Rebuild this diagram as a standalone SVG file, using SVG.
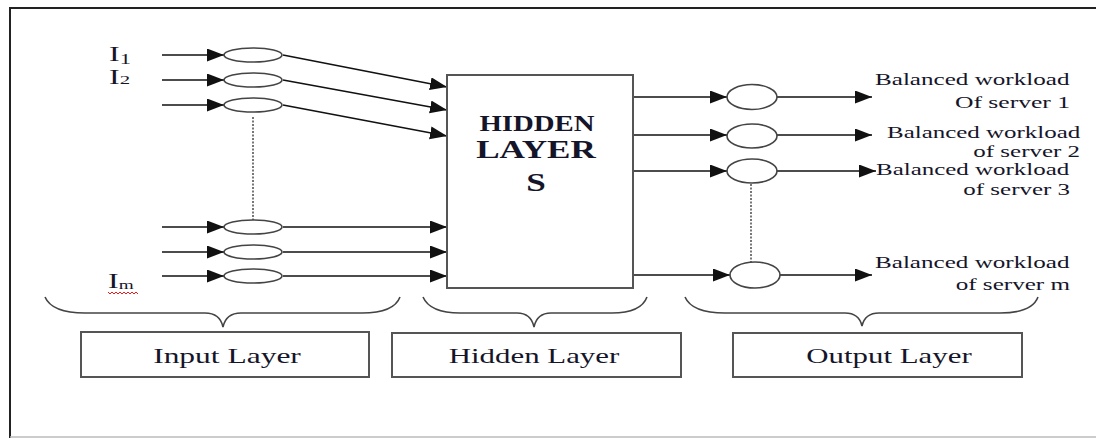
<svg xmlns="http://www.w3.org/2000/svg" width="1096" height="439" viewBox="0 0 1096 439">
<style>
.ln{stroke:#111;stroke-width:1.6;fill:none}
.ell{stroke:#444;stroke-width:1.6;fill:#fff}
.dot{stroke:#555;stroke-width:1.6;stroke-dasharray:2,1.5;fill:none}
.brace{stroke:#444;stroke-width:1.6;fill:none}
.box{stroke:#555;stroke-width:2;fill:#fff}
.t{font-family:"Liberation Serif","Times New Roman",serif;fill:#15152a}
.out{font-size:16px}
.lbl{font-size:20px}
.lay{font-size:21px}
.hid{font-weight:bold}
</style>
<defs>
<marker id="ah" markerUnits="userSpaceOnUse" markerWidth="18" markerHeight="14" refX="17" refY="6.5" orient="auto">
<path d="M0,0 L17,6.5 L0,13 z" fill="#111"/>
</marker>
</defs>

<g id="frame">
<line x1="10" y1="8" x2="1096" y2="8" stroke="#222" stroke-width="2"/>
<line x1="10" y1="7" x2="10" y2="438" stroke="#222" stroke-width="2"/>
<line x1="10" y1="437" x2="1096" y2="437" stroke="#bbb" stroke-width="1.5"/>
</g>

<g id="connectors">
<line class="ln" x1="162" y1="55" x2="224" y2="55" marker-end="url(#ah)"/>
<line class="ln" x1="162" y1="80" x2="224" y2="80" marker-end="url(#ah)"/>
<line class="ln" x1="162" y1="105" x2="224" y2="105" marker-end="url(#ah)"/>
<line class="ln" x1="162" y1="227" x2="224" y2="227" marker-end="url(#ah)"/>
<line class="ln" x1="162" y1="252" x2="224" y2="252" marker-end="url(#ah)"/>
<line class="ln" x1="162" y1="276" x2="224" y2="276" marker-end="url(#ah)"/>
<line class="ln" x1="283" y1="55" x2="447" y2="87" marker-end="url(#ah)"/>
<line class="ln" x1="283" y1="80" x2="447" y2="110" marker-end="url(#ah)"/>
<line class="ln" x1="283" y1="105" x2="447" y2="136" marker-end="url(#ah)"/>
<line class="ln" x1="283" y1="227" x2="447" y2="227" marker-end="url(#ah)"/>
<line class="ln" x1="283" y1="252" x2="447" y2="252" marker-end="url(#ah)"/>
<line class="ln" x1="283" y1="276" x2="447" y2="276" marker-end="url(#ah)"/>
<line class="ln" x1="633" y1="97" x2="727" y2="97" marker-end="url(#ah)"/>
<line class="ln" x1="633" y1="135" x2="727" y2="135" marker-end="url(#ah)"/>
<line class="ln" x1="633" y1="171" x2="727" y2="171" marker-end="url(#ah)"/>
<line class="ln" x1="633" y1="275" x2="730" y2="275" marker-end="url(#ah)"/>
<line class="ln" x1="777" y1="97" x2="872" y2="97" marker-end="url(#ah)"/>
<line class="ln" x1="777" y1="135" x2="872" y2="135" marker-end="url(#ah)"/>
<line class="ln" x1="777" y1="171" x2="876" y2="171" marker-end="url(#ah)"/>
<line class="ln" x1="780" y1="275" x2="872" y2="275" marker-end="url(#ah)"/>
<line class="dot" x1="253" y1="117" x2="253" y2="220"/>
<line class="dot" x1="751" y1="184" x2="751" y2="262"/>
</g>

<g id="input-labels">
<text class="t lbl" transform="translate(109,61) scale(1.6,1)">I<tspan font-size="14" dy="3">1</tspan></text>
<text class="t lbl" transform="translate(109,84) scale(1.6,1)">I<tspan font-size="13">2</tspan></text>
<text class="t lbl" transform="translate(108,288) scale(1.6,1)">I<tspan font-size="12" dy="1">m</tspan></text>
<path d="M108,292 l2,2 l2,-2 l2,2 l2,-2 l2,2 l2,-2 l2,2 l2,-2 l2,2 l2,-2 l2,2 l2,-2 l2,2 l2,-2 l2,2" stroke="#e02020" stroke-width="1" fill="none"/>
</g>

<g id="input-nodes">
<ellipse class="ell" cx="253" cy="55" rx="29" ry="7"/>
<ellipse class="ell" cx="253" cy="80" rx="29" ry="7"/>
<ellipse class="ell" cx="253" cy="105" rx="29" ry="7"/>
<ellipse class="ell" cx="253" cy="227" rx="29" ry="7"/>
<ellipse class="ell" cx="253" cy="252" rx="29" ry="7"/>
<ellipse class="ell" cx="253" cy="276" rx="29" ry="7"/>
</g>

<g id="hidden-node">
<rect class="box" x="447" y="75" width="186" height="213"/>
<text class="t hid" transform="translate(537,131) scale(1.2,1)" font-size="24" text-anchor="middle">HIDDEN</text>
<text class="t hid" transform="translate(536,158) scale(1.35,1)" font-size="26" text-anchor="middle">LAYER</text>
<text class="t hid" transform="translate(536,191) scale(1.35,1)" font-size="26" text-anchor="middle">S</text>
</g>

<g id="output-nodes">
<ellipse class="ell" cx="752" cy="97" rx="25" ry="12.5"/>
<ellipse class="ell" cx="752" cy="136" rx="25" ry="12"/>
<ellipse class="ell" cx="752" cy="171" rx="25" ry="12"/>
<ellipse class="ell" cx="755" cy="275" rx="25" ry="13"/>
</g>

<g id="output-labels">
<text class="t out" transform="translate(875,85) scale(1.57,1)">Balanced workload</text>
<text class="t out" transform="translate(1070,108) scale(1.6,1)" text-anchor="end">Of server 1</text>
<text class="t out" transform="translate(887,138) scale(1.56,1)">Balanced workload</text>
<text class="t out" transform="translate(1080,157) scale(1.56,1)" text-anchor="end">of server 2</text>
<text class="t out" transform="translate(876,175) scale(1.56,1)">Balanced workload</text>
<text class="t out" transform="translate(1070,195) scale(1.56,1)" text-anchor="end">of server 3</text>
<text class="t out" transform="translate(875,268) scale(1.57,1)">Balanced workload</text>
<text class="t out" transform="translate(1070,290) scale(1.57,1)" text-anchor="end">of server m</text>
</g>

<g id="braces">
<path class="brace" d="M45,297 Q52,313 85,313 L205,313 Q220,313 223,327 Q226,313 241,313 L362,313 Q394,313 400,297"/>
<path class="brace" d="M423,297 Q430,313 460,313 L517,313 Q531,313 534,327 Q537,313 551,313 L612,313 Q641,313 647,297"/>
<path class="brace" d="M685,297 Q692,313 725,313 L845,313 Q859,313 862,326 Q865,313 879,313 L1000,313 Q1032,313 1038,297"/>
</g>

<g id="input-layer-box">
<rect class="box" x="81" y="332" width="288" height="45"/>
<text class="t lay" transform="translate(227,363) scale(1.5,1)" text-anchor="middle">Input Layer</text>
</g>
<g id="hidden-layer-box">
<rect class="box" x="392" y="333" width="289" height="44"/>
<text class="t lay" transform="translate(534,363) scale(1.47,1)" text-anchor="middle">Hidden Layer</text>
</g>
<g id="output-layer-box">
<rect class="box" x="733" y="333" width="289" height="44"/>
<text class="t lay" transform="translate(889,363) scale(1.47,1)" text-anchor="middle">Output Layer</text>
</g>
</svg>
